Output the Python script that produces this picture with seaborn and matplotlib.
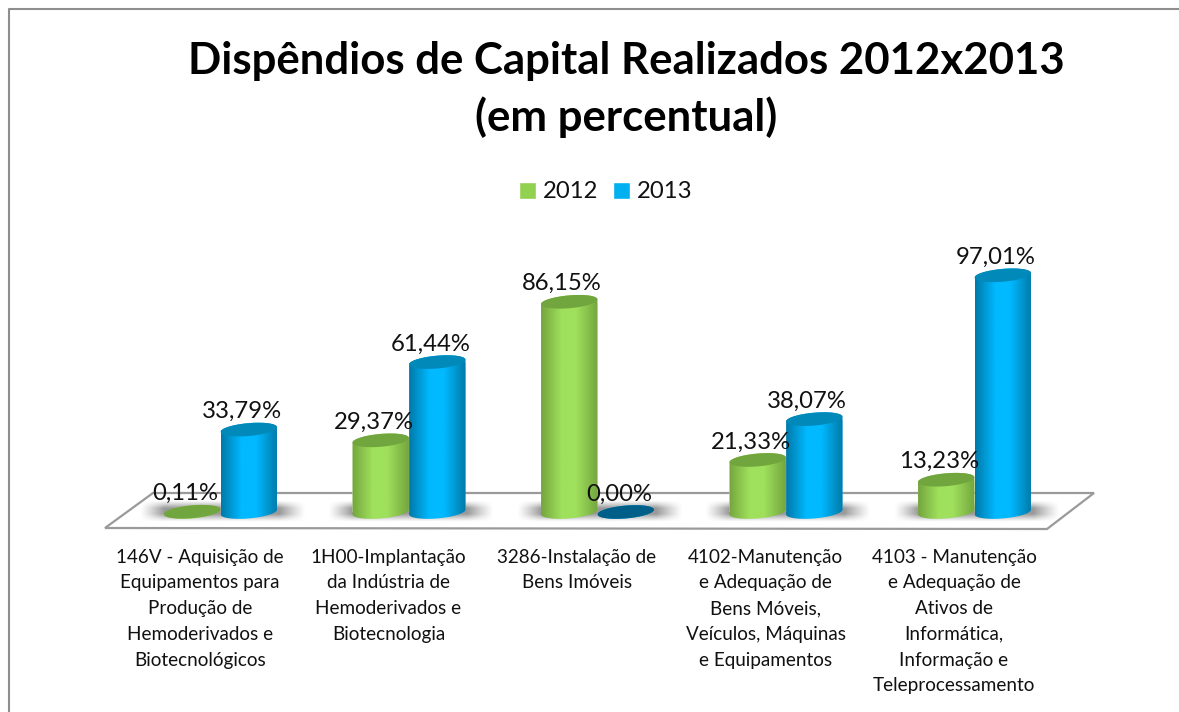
import numpy as np
import pandas as pd
import matplotlib
matplotlib.use('Agg')
import matplotlib.pyplot as plt
import seaborn as sns
from matplotlib.colors import LinearSegmentedColormap
from matplotlib.lines import Line2D
from matplotlib.patches import Polygon
from matplotlib.transforms import Affine2D, IdentityTransform, ScaledTranslation

# ================= DATA =================
categorias = ['146V - Aquisição de\nEquipamentos para\nProdução de\nHemoderivados e\nBiotecnológicos',
              '1H00-Implantação\nda Indústria de\nHemoderivados e\nBiotecnologia',
              '3286-Instalação de\nBens Imóveis',
              '4102-Manutenção\ne Adequação de\nBens Móveis,\nVeículos, Máquinas\ne Equipamentos',
              '4103 - Manutenção\ne Adequação de\nAtivos de\nInformática,\nInformação e\nTeleprocessamento']
valores_2012 = [0.11, 29.37, 86.15, 21.33, 13.23]
valores_2013 = [33.79, 61.44, 0.00, 38.07, 97.01]
titulo = 'Dispêndios de Capital Realizados 2012x2013\n(em percentual)'

verde = '#92D050'
azul = '#00B0F0'

df = pd.DataFrame({
    'categoria': categorias * 2,
    'ano': ['2012'] * 5 + ['2013'] * 5,
    'valor': valores_2012 + valores_2013,
})

# ================= FIGURE =================
sns.set_theme(style='white')
plt.rcParams['font.family'] = ['Lato', 'DejaVu Sans']

W, H = 1179, 712
fig = plt.figure(figsize=(W / 100, H / 100), dpi=100, facecolor='white')
ax = fig.add_axes([126.25 / W, (H - 512) / H, 942.5 / W, 244 / H])
ax.patch.set_visible(False)

sns.barplot(data=df, x='categoria', y='valor', hue='ano', palette=[verde, azul],
            width=0.6, gap=0, saturation=1, ax=ax, zorder=2)

ax.set_xlim(-0.5, 4.5)
ax.set_ylim(0, 100)
ax.set_xlabel('')
ax.set_ylabel('')
ax.set_yticks([])
sns.despine(ax=ax, left=True, bottom=True)

# pixel coordinates measured from the top left of the picture
px = Affine2D().scale(1 / W, -1 / H).translate(0, 1) + fig.transFigure

# chart frame (runs off the right and bottom edge)
fig.add_artist(Line2D([W, 9, 9], [9, 9, H], color='#8E8E8E', lw=1.5, transform=px))

# 3d floor
fig.add_artist(Polygon([(105, 528), (153, 493), (1094, 493), (1047, 529)], closed=True,
                       facecolor='white', edgecolor='#9A9A9A', lw=1.6,
                       transform=px, zorder=-1))


def elipse(cx, cy, a=27.8, b=6.4, tilt=5, t0=0, t1=360):
    # tilted ellipse in screen pixels
    t = np.radians(np.linspace(t0, t1, 60))
    th = np.radians(tilt)
    x = cx + a * np.cos(t) * np.cos(th) - b * np.sin(t) * np.sin(th)
    y = cy + a * np.cos(t) * np.sin(th) + b * np.sin(t) * np.cos(th)
    return np.column_stack([x, y])


def degrade(cor_borda, cor_centro):
    return LinearSegmentedColormap.from_list(
        'c', [(0, cor_borda), (0.36, cor_centro), (0.62, cor_centro), (1, cor_borda)], N=256)


estilos = [
    {'cmap': degrade('#74A53E', '#9FE05C'), 'tampa': '#71A53D', 'zero': '#5E8A32', 'z': 3},
    {'cmap': degrade('#0079A8', '#00B9FF'), 'tampa': '#0089B9', 'zero': '#005F88', 'z': 4},
]
grad = np.array([np.linspace(0, 1, 128)])

# cylinders on top of the seaborn bars
for cont, est in zip(ax.containers, estilos):
    for bar in cont:
        x0, w, v = bar.get_x(), bar.get_width(), bar.get_height()
        (xa, y_base), (xb, y_top) = ax.transData.transform([(x0, 0), (x0 + w, v)])
        cx = (xa + xb) / 2
        a = (xb - xa) / 2
        corpo = Polygon(np.vstack([elipse(cx, y_base, a=a, t0=180, t1=360),
                                   elipse(cx, y_top, a=a, t0=0, t1=180)]),
                        closed=True, transform=IdentityTransform())
        bar.set_clip_path(corpo)
        bar.set_zorder(est['z'])
        im = ax.imshow(grad, extent=(x0, x0 + w, -5, v + 5), aspect='auto', cmap=est['cmap'],
                       interpolation='bilinear', zorder=est['z'])
        im.set_clip_path(corpo)
        im.set_clip_box(fig.bbox)  # the cylinder base hangs below the axes
        cor = est['zero'] if v == 0 else est['tampa']
        ax.add_patch(Polygon(elipse(cx, y_top, a=a), closed=True, facecolor=cor, edgecolor='none',
                             transform=IdentityTransform(), clip_on=False, zorder=est['z'] + 0.1))
        ax.annotate(f'{v:.2f}%'.replace('.', ','), (cx, y_top), xycoords=IdentityTransform(),
                    xytext=(-7, 18), textcoords='offset pixels', ha='center', va='center',
                    fontsize=17.2, color='#111111', zorder=6, annotation_clip=False)

# soft shadows on the floor
inv = ax.transData.inverted()
for c1, c2 in zip(ax.containers[0], ax.containers[1]):
    x_esq = c1.get_x()
    x_dir = c2.get_x() + c2.get_width()
    (xa, _), (xb, _) = ax.transData.transform([(x_esq, 0), (x_dir, 0)])
    xa, xb = xa - 24, xb + 28
    ya, yb = H - 522, H - 500
    (dx0, dy0), (dx1, dy1) = inv.transform([(xa, ya), (xb, yb)])
    xs = np.linspace(0, xb - xa, 200)
    ys = np.linspace(0, yb - ya, 40)
    fx = np.clip(xs / 24, 0, 1) * np.clip((xs[-1] - xs) / 26, 0, 1)
    fy = np.clip(ys / 8, 0, 1) * np.clip((ys[-1] - ys) / 8, 0, 1)
    alfa = np.outer(fy, fx) ** 1.2 * 0.62
    img = np.zeros((40, 200, 4))
    img[..., :3] = 0.36
    img[..., 3] = alfa
    ax.imshow(img, extent=(dx0, dx1, dy0, dy1), origin='lower', aspect='auto',
              interpolation='bilinear', zorder=1, clip_on=False)

ax.set_xlim(-0.5, 4.5)
ax.set_ylim(0, 100)

# ================= TEXT =================
ax.tick_params(axis='x', length=0, pad=26.5, labelsize=13.6, colors='#111111')
desloca = ScaledTranslation(-20.5 / 100, 0, fig.dpi_scale_trans)
for lab in ax.get_xticklabels():
    lab.set_linespacing(1.62)
    lab.set_transform(lab.get_transform() + desloca)

fig.text(626 / W, 1 - 89.5 / H, titulo, ha='center', va='center', fontsize=31.5,
         fontweight='bold', color='black', linespacing=1.44)

handles, labels = ax.get_legend_handles_labels()
ax.legend(handles, labels, ncol=2, loc='center', bbox_to_anchor=(605.5 / W, 1 - 192 / H),
          bbox_transform=fig.transFigure, frameon=False, fontsize=17.2,
          handlelength=0.72, handleheight=0.72, handletextpad=0.28, columnspacing=0.6,
          labelcolor='#111111')

fig.savefig('out.png', dpi=100)
